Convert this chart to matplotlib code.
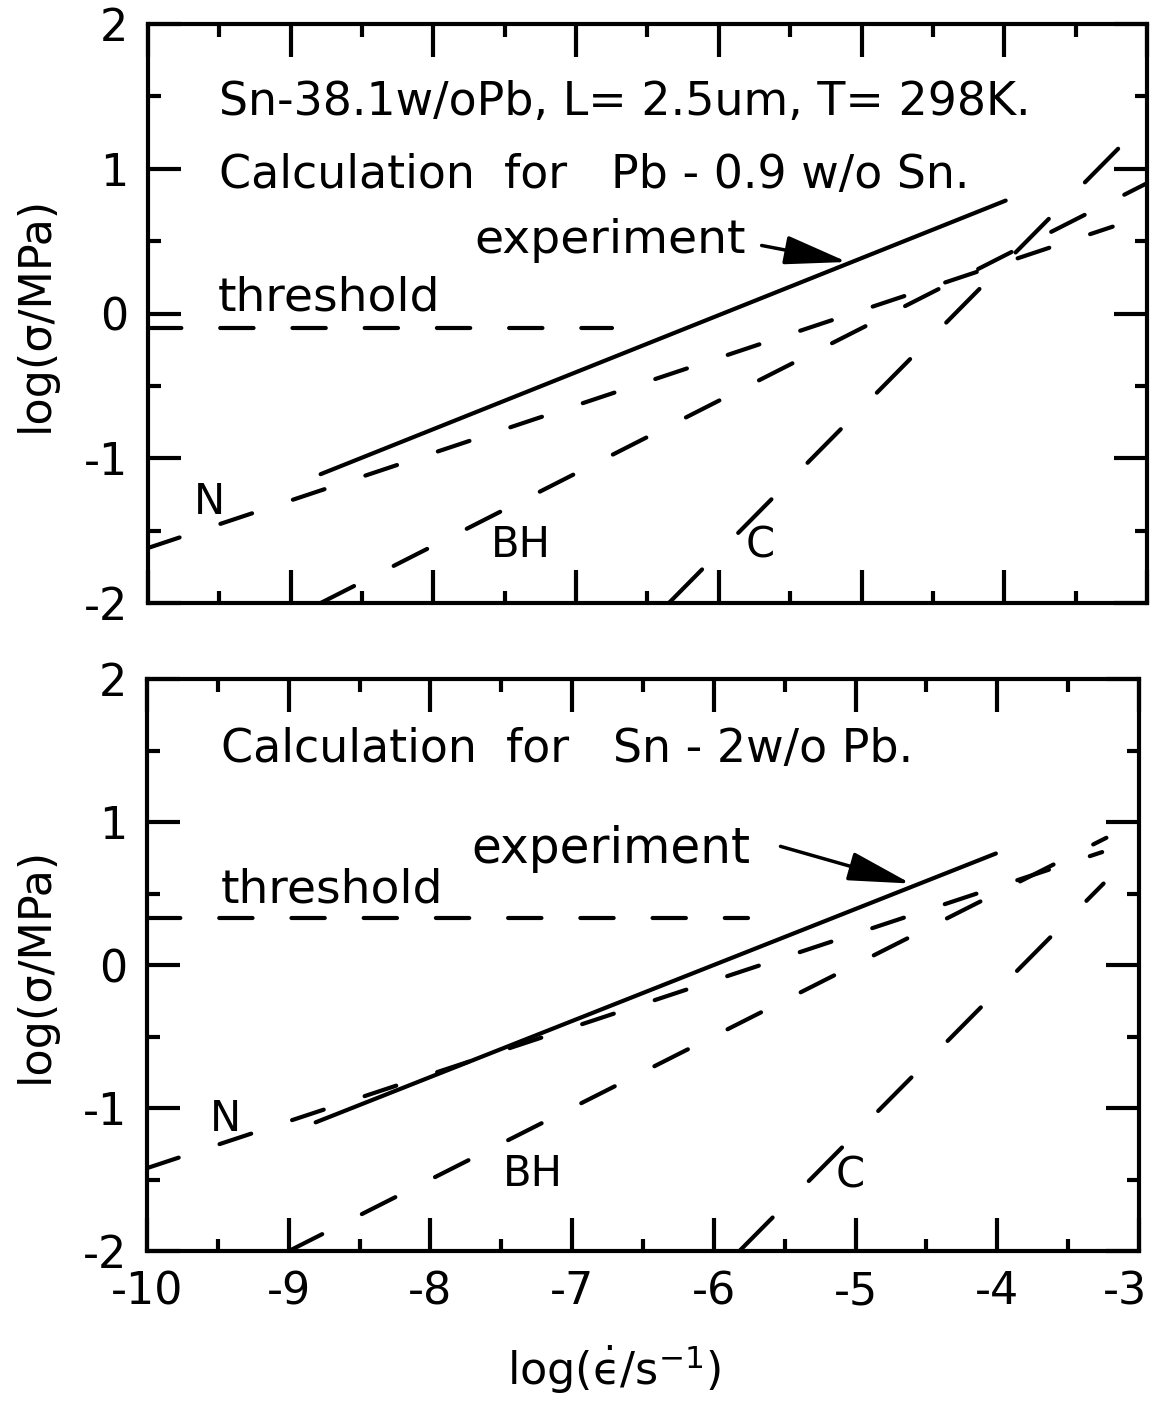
import matplotlib
matplotlib.use("Agg")
import matplotlib.pyplot as plt
from matplotlib.transforms import ScaledTranslation

plt.rcParams['font.family'] = ['DejaVu Sans']
plt.rcParams['mathtext.fontset'] = 'dejavusans'
plt.rcParams['axes.unicode_minus'] = False
plt.rcParams['lines.scale_dashes'] = False

# x range and ticks
x_ticks = [-10, -9, -8, -7, -6, -5, -4, -3]
y_ticks = [-2, -1, 0, 1, 2]

# Top panel: Sn-38.1 w/o Pb, calculation for Pb-0.9 w/o Sn
top_exp_x = [-8.79, -3.99]
top_exp_y = [-1.11, 0.78]
top_N_x = [-10.0, -3.24]
top_N_y = [-1.62, 0.60]
top_BH_x = [-8.79, -3.0]
top_BH_y = [-2.0, 0.90]
top_C_x = [-6.35, -3.18]
top_C_y = [-2.0, 1.16]
top_thr_x = [-10.0, -6.75]
top_thr_y = [-0.10, -0.10]

# Bottom panel: calculation for Sn-2 w/o Pb
bot_exp_x = [-8.81, -4.01]
bot_exp_y = [-1.10, 0.78]
bot_N_x = [-10.0, -3.26]
bot_N_y = [-1.42, 0.79]
bot_BH_x = [-9.0, -3.23]
bot_BH_y = [-2.0, 0.89]
bot_C_x = [-5.82, -3.25]
bot_C_y = [-2.0, 0.57]
bot_thr_x = [-10.0, -5.76]
bot_thr_y = [0.33, 0.33]

top_title1 = "Sn-38.1w/oPb, L= 2.5um, T= 298K."
top_title2 = "Calculation  for   Pb - 0.9 w/o Sn."
bot_title = "Calculation  for   Sn - 2w/o Pb."

fig = plt.figure(figsize=(11.54, 14.03), dpi=100)
ax1 = fig.add_axes([0.1282, 0.5702, 0.8657, 0.4127])
ax2 = fig.add_axes([0.1274, 0.1083, 0.8596, 0.4077])

lw = 3.0
dash_thr = (0, (24, 28))
dash_N = (0, (24, 31))
dash_BH = (0, (27, 32))
dash_C = (0, (34, 37))


def draw_panel(ax, exp, N, BH, C, thr):
    ax.plot(exp[0], exp[1], color='k', lw=lw, solid_capstyle='round')
    ax.plot(N[0], N[1], color='k', lw=lw, linestyle=dash_N, dash_capstyle='round')
    ax.plot(BH[0], BH[1], color='k', lw=lw, linestyle=dash_BH, dash_capstyle='round')
    ax.plot(C[0], C[1], color='k', lw=lw, linestyle=dash_C, dash_capstyle='round')
    ax.plot(thr[0], thr[1], color='k', lw=lw, linestyle=dash_thr, dash_capstyle='round')
    ax.set_xlim(-10, -3)
    ax.set_ylim(-2, 2)
    ax.set_xticks(x_ticks)
    ax.set_yticks(y_ticks)
    ax.set_xticks([v + 0.5 for v in x_ticks[:-1]], minor=True)
    ax.set_yticks([v + 0.5 for v in y_ticks[:-1]], minor=True)
    ax.tick_params(which='both', direction='in', top=True, right=True, width=3,
                   labelsize=32, pad=14)
    ax.tick_params(which='major', length=24)
    ax.tick_params(which='minor', length=9)
    for s in ax.spines.values():
        s.set_linewidth(3)
    ax.set_ylabel('log(σ/MPa)', fontsize=32)
    ax.yaxis.set_label_coords(-0.113, 0.5)
    ax.yaxis.label.set_va('center')


draw_panel(ax1, (top_exp_x, top_exp_y), (top_N_x, top_N_y), (top_BH_x, top_BH_y),
           (top_C_x, top_C_y), (top_thr_x, top_thr_y))
draw_panel(ax2, (bot_exp_x, bot_exp_y), (bot_N_x, bot_N_y), (bot_BH_x, bot_BH_y),
           (bot_C_x, bot_C_y), (bot_thr_x, bot_thr_y))
ax1.tick_params(labelbottom=False)

txt = 33
arrow = dict(arrowstyle='-|>,head_length=1.3,head_width=0.3',
             lw=2.5, color='k', mutation_scale=30, shrinkA=0, shrinkB=0)

# top panel texts
ax1.text(-9.50, 1.37, top_title1, fontsize=txt, va='baseline')
ax1.text(-9.50, 0.867, top_title2, fontsize=txt, va='baseline')
ax1.text(-7.71, 0.418, "experiment", fontsize=34, va='baseline')
ax1.text(-9.51, 0.024, "threshold", fontsize=34, va='baseline')
ax1.annotate('', xy=(-5.10, 0.356), xytext=(-5.70, 0.47), arrowprops=arrow)
ax1.text(-9.57, -1.30, "N", fontsize=30, ha='center', va='center')
ax1.text(-7.39, -1.60, "BH", fontsize=30, ha='center', va='center')
ax1.text(-5.71, -1.60, "C", fontsize=30, ha='center', va='center')

# bottom panel texts
ax2.text(-9.48, 1.42, bot_title, fontsize=txt, va='baseline')
ax2.text(-7.71, 0.713, "experiment", fontsize=35, va='baseline')
ax2.text(-9.48, 0.44, "threshold", fontsize=34, va='baseline')
ax2.annotate('', xy=(-4.61, 0.57), xytext=(-5.53, 0.83), arrowprops=arrow)
ax2.text(-9.45, -1.08, "N", fontsize=30, ha='center', va='center')
ax2.text(-7.28, -1.46, "BH", fontsize=30, ha='center', va='center')
ax2.text(-5.04, -1.47, "C", fontsize=30, ha='center', va='center')

ax2.set_xlabel(r'log($\dot{\mathrm{ϵ}}$/s$^{-1}$)', fontsize=32)
ax2.xaxis.set_label_coords(0.471, -0.208)
ax2.xaxis.label.set_va('center')

# keep the last x tick label inside the figure
fig.canvas.draw()
last = ax2.get_xticklabels()[-1]
last.set_transform(last.get_transform() + ScaledTranslation(-0.14, 0, fig.dpi_scale_trans))

fig.savefig('out.png', dpi=100)
